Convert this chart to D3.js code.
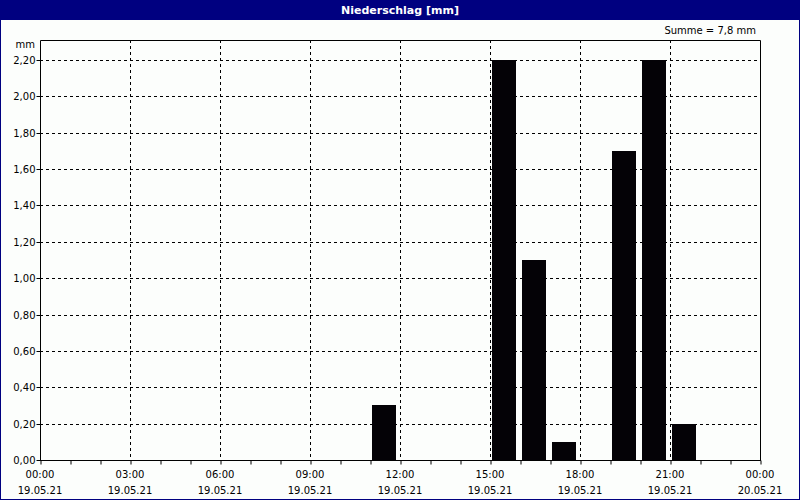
<!DOCTYPE html>
<html><head><meta charset="utf-8">
<script src="https://cdn.jsdelivr.net/npm/d3@7"></script>
<style>body{margin:0;background:#fff}svg{display:block}text{font-family:Tahoma,"DejaVu Sans",sans-serif;font-size:10px;fill:#000}</style>
</head><body>
<script>
const hours = d3.range(24);
const values = [0,0,0,0,0,0,0,0,0,0,0,0.3,0,0,0,2.2,1.1,0.1,0,1.7,2.2,0.2,0,0];
const yTicks = [0,0.2,0.4,0.6,0.8,1.0,1.2,1.4,1.6,1.8,2.0,2.2];
const xTickHours = [0,3,6,9,12,15,18,21,24];
const timeLabels = ["00:00","03:00","06:00","09:00","12:00","15:00","18:00","21:00","00:00"];
const dateLabels = ["19.05.21","19.05.21","19.05.21","19.05.21","19.05.21","19.05.21","19.05.21","19.05.21","20.05.21"];
const title = "Niederschlag [mm]";
const sumLabel = "Summe = 7,8 mm";

const W=800,H=500;
const svg=d3.select("body").append("svg").attr("width",W).attr("height",H);
svg.append("rect").attr("width",W).attr("height",H).attr("fill","#fcfefc");
svg.append("rect").attr("x",0).attr("y",0).attr("width",W).attr("height",20).attr("fill","#000080");
svg.append("rect").attr("x",0.5).attr("y",0.5).attr("width",W-1).attr("height",H-1).attr("fill","none").attr("stroke","#000080");
svg.append("text").attr("x",W/2).attr("y",14).attr("text-anchor","middle").style("fill","#fff").style("font-weight","bold").style("font-size","11px").text(title);
svg.append("text").attr("x",756).attr("y",34).attr("text-anchor","end").text(sumLabel);

const x=d3.scaleLinear().domain([0,24]).range([40,760]);
const y=d3.scaleLinear().domain([0,2.31]).range([460,40]);
const fmt=d=>d3.format(".2f")(d).replace(".",",");

// grid
const g=svg.append("g");
g.selectAll(".gy").data(yTicks.slice(1)).join("line")
 .attr("x1",40).attr("x2",760).attr("y1",d=>Math.round(y(d))+0.5).attr("y2",d=>Math.round(y(d))+0.5)
 .attr("stroke","#000").attr("stroke-dasharray","3,3");
g.selectAll(".gx").data(xTickHours.slice(1,-1)).join("line")
 .attr("x1",d=>Math.round(x(d))+0.5).attr("x2",d=>Math.round(x(d))+0.5).attr("y1",40).attr("y2",460)
 .attr("stroke","#000").attr("stroke-dasharray","3,3");

// bars
svg.selectAll(".bar").data(hours.filter(h=>values[h]>0)).join("rect")
 .attr("x",h=>x(h)+2).attr("width",h=>x(h+1)-x(h)-6)
 .attr("y",h=>Math.round(y(values[h]))).attr("height",h=>460-Math.round(y(values[h])))
 .attr("fill","#040206");

// frame
svg.append("path").attr("d","M40.5,460V40.5H760.5V460").attr("fill","none").attr("stroke","#000");

// axes
const xa=svg.append("g").attr("transform","translate(0,460.5)")
 .call(d3.axisBottom(x).tickValues(d3.range(25)).tickSize(4).tickFormat(""));
xa.select(".domain").attr("d","M40,0H761");
xa.selectAll(".tick line").attr("transform","translate(0.5,0)");
const xl=svg.append("g");
xl.selectAll(".t1").data(xTickHours).join("text").attr("x",(d)=>x(d)).attr("y",478).attr("text-anchor","middle").text((d,i)=>timeLabels[i]);
xl.selectAll(".t2").data(xTickHours).join("text").attr("x",(d)=>x(d)).attr("y",494).attr("text-anchor","middle").text((d,i)=>dateLabels[i]);

const ya=svg.append("g").attr("transform","translate(40.5,0)")
 .call(d3.axisLeft(y).tickValues(yTicks).tickSize(4).tickFormat(fmt));
ya.select(".domain").remove();
ya.selectAll(".tick").attr("transform",d=>`translate(0,${Math.round(y(d))+0.5})`);
ya.selectAll(".tick text").attr("x",-5).style("font-family","Tahoma,'DejaVu Sans',sans-serif").style("font-size","10px");
svg.append("text").attr("x",35).attr("y",48).attr("text-anchor","end").text("mm");
</script>
</body></html>
